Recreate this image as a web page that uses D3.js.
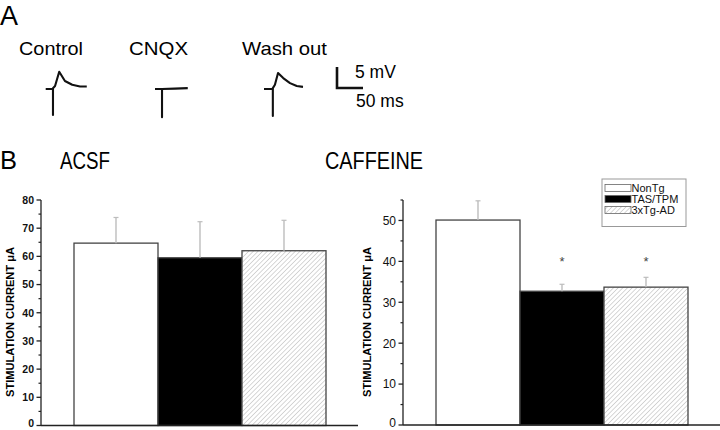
<!DOCTYPE html>
<html>
<head>
<meta charset="utf-8">
<script src="https://cdn.jsdelivr.net/npm/d3@7"></script>
<style>
  body { margin: 0; background: #fff; }
  svg { display: block; font-family: "Liberation Sans", Arial, sans-serif; }
</style>
</head>
<body>
<svg id="fig" width="720" height="430"></svg>
<script>
// groups (bars) and the two conditions
var groups = ["NonTg", "TAS/TPM", "3xTg-AD"];
var acsfMean = [64.7, 59.5, 62.0];
var acsfErr = [9.1, 12.8, 10.8];
var caffMean = [50.1, 32.7, 33.7];
var caffErr = [4.7, 1.7, 2.4];
var caffSig = [false, true, true];
var acsfTicks = [0, 10, 20, 30, 40, 50, 60, 70, 80];
var caffTicks = [0, 10, 20, 30, 40, 50];

// example EPSP traces, [ms, mV]
var traceNames = ["Control", "CNQX", "Wash out"];
var traceControl = [[0,0],[14,0],[14,-6.2],[14,0.2],[18,0.7],[26,4.1],[37,1.9],[51,1.0],[66,0.6],[79,0.6]];
var traceCnqx = [[0,0],[13.5,0],[13.5,-6.7],[13.5,0],[38,0.1],[63,0.2]];
var traceWash = [[0,0],[17,0],[17,-6.4],[17,0.2],[21,1],[27,3.8],[37,2.6],[50,1.4],[63,0.7],[75,0.5]];
var scaleBar = {ms: 50, mV: 5};

var svg = d3.select("#fig");
var defs = svg.append("defs");

var hatch = defs.append("pattern")
    .attr("id", "hatch")
    .attr("patternUnits", "userSpaceOnUse")
    .attr("width", 3.3).attr("height", 3.3)
    .attr("patternTransform", "rotate(45)");
hatch.append("rect").attr("width", 3.3).attr("height", 3.3).attr("fill", "#fff");
hatch.append("line")
    .attr("x1", 0).attr("y1", 0).attr("x2", 0).attr("y2", 3.3)
    .attr("stroke", "#b0b0b0").attr("stroke-width", 1);

var fills = ["#fff", "#000", "url(#hatch)"];

// ---------- panel A ----------
svg.append("text").attr("x", 0).attr("y", 25)
    .attr("font-size", 27).text("A");

var t = d3.scaleLinear().domain([0, 1]).range([0, 0.52]);   // px per ms
var v = d3.scaleLinear().domain([0, 1]).range([0, -4.2]);   // px per mV
var traceLine = d3.line()
    .x(function(d) { return t(d[0]) })
    .y(function(d) { return v(d[1]) });

var traces = [
  {name: traceNames[0], data: traceControl, x0: 45.7, lx: 19, lw: 64},
  {name: traceNames[1], data: traceCnqx, x0: 155, lx: 129, lw: 59},
  {name: traceNames[2], data: traceWash, x0: 264, lx: 242, lw: 85}
];

traces.forEach(function(tr) {
  svg.append("text")
      .attr("x", tr.lx).attr("y", 55)
      .attr("font-size", 18.5)
      .attr("textLength", tr.lw).attr("lengthAdjust", "spacingAndGlyphs")
      .text(tr.name);
  svg.append("path")
      .attr("transform", "translate(" + tr.x0 + ",89)")
      .attr("d", traceLine(tr.data))
      .attr("fill", "none")
      .attr("stroke", "#111")
      .attr("stroke-width", 2.1)
      .attr("stroke-linejoin", "round");
});

// scale bar
var sb = svg.append("g").attr("transform", "translate(337,88)");
sb.append("path")
    .attr("d", "M0," + v(scaleBar.mV) + "V0H" + t(scaleBar.ms))
    .attr("fill", "none").attr("stroke", "#111").attr("stroke-width", 2.6);
sb.append("text").attr("x", 18).attr("y", -10).attr("font-size", 17.5).text(scaleBar.mV + " mV");
sb.append("text").attr("x", 19).attr("y", 19).attr("font-size", 17.5).text(scaleBar.ms + " ms");

// ---------- panel B ----------
svg.append("text").attr("x", 0).attr("y", 169)
    .attr("font-size", 26)
    .attr("textLength", 17).attr("lengthAdjust", "spacingAndGlyphs")
    .text("B");

function barPanel(opts) {
  var g = svg.append("g");
  var x = d3.scaleBand().domain(groups).range(opts.bars).padding(0);
  var y = d3.scaleLinear().domain([0, opts.max]).range([opts.bottom, opts.top]);

  g.append("text")
      .attr("x", opts.titleX).attr("y", 169)
      .attr("font-size", 24)
      .attr("textLength", opts.titleW).attr("lengthAdjust", "spacingAndGlyphs")
      .text(opts.title);

  // bars
  g.selectAll(".bar")
    .data(opts.mean)
    .enter().append("rect")
      .attr("class", "bar")
      .attr("x", function(d, i) { return x(groups[i]) })
      .attr("y", function(d) { return y(d) })
      .attr("width", x.bandwidth())
      .attr("height", function(d) { return y(0) - y(d) })
      .attr("fill", function(d, i) { return fills[i] })
      .attr("stroke", "#444")
      .attr("stroke-width", 1.3);

  // upper error bars
  opts.mean.forEach(function(m, i) {
    var cx = x(groups[i]) + x.bandwidth() / 2;
    g.append("line")
        .attr("x1", cx).attr("x2", cx)
        .attr("y1", y(m)).attr("y2", y(m + opts.err[i]))
        .attr("stroke", "#bdbdbd").attr("stroke-width", 1.4);
    g.append("line")
        .attr("x1", cx - 2.5).attr("x2", cx + 2.5)
        .attr("y1", y(m + opts.err[i])).attr("y2", y(m + opts.err[i]))
        .attr("stroke", "#bdbdbd").attr("stroke-width", 1.2);
    if (opts.sig && opts.sig[i]) {
      g.append("text")
          .attr("x", cx).attr("y", y(38.8))
          .attr("text-anchor", "middle")
          .attr("font-size", 13).attr("fill", "#444")
          .text("*");
    }
  });

  // y axis with minor ticks
  var ax = g.append("g").attr("transform", "translate(" + opts.axisX + ",0)");
  ax.append("line")
      .attr("x1", 0).attr("x2", 0)
      .attr("y1", y(0)).attr("y2", opts.top)
      .attr("stroke", "#222").attr("stroke-width", 1.3);
  ax.selectAll(".minor")
    .data(d3.range(5, opts.max + 0.1, 10))
    .enter().append("line")
      .attr("x1", -2.5).attr("x2", 0)
      .attr("y1", function(d) { return y(d) })
      .attr("y2", function(d) { return y(d) })
      .attr("stroke", "#222").attr("stroke-width", 1.2);
  ax.selectAll(".major")
    .data(opts.ticks)
    .enter().append("line")
      .attr("x1", -4.5).attr("x2", 0)
      .attr("y1", function(d) { return y(d) })
      .attr("y2", function(d) { return y(d) })
      .attr("stroke", "#222").attr("stroke-width", 1.3);
  ax.selectAll(".tlabel")
    .data(opts.ticks)
    .enter().append("text")
      .attr("x", -7)
      .attr("y", function(d) { return y(d) })
      // keep the bottom label inside the picture
      .attr("dy", function(d) { return d === 0 ? "0.18em" : "0.36em" })
      .attr("text-anchor", "end")
      .attr("font-size", opts.tickSize)
      .attr("font-weight", opts.tickWeight)
      .attr("fill", "#111")
      .text(function(d) { return d });

  // x axis line
  g.append("line")
      .attr("x1", opts.axisX).attr("x2", opts.axisEnd)
      .attr("y1", y(0)).attr("y2", y(0))
      .attr("stroke", "#222").attr("stroke-width", 1.3);

  // y title
  g.append("text")
      .attr("transform", "translate(" + opts.labelX + "," + 322 + ") rotate(-90)")
      .attr("text-anchor", "middle")
      .attr("font-size", 10.5)
      .attr("font-weight", "bold")
      .attr("textLength", 150).attr("lengthAdjust", "spacingAndGlyphs")
      .text("STIMULATION CURRENT \u03bcA");

  return g;
}

barPanel({
  title: "ACSF", titleX: 60, titleW: 50,
  mean: acsfMean, err: acsfErr, ticks: acsfTicks, max: 80,
  bars: [74, 326], top: 200, bottom: 425.5,
  axisX: 41, axisEnd: 358, labelX: 14,
  tickSize: 10.5, tickWeight: "bold"
});

barPanel({
  title: "CAFFEINE", titleX: 325, titleW: 98,
  mean: caffMean, err: caffErr, sig: caffSig, ticks: caffTicks, max: 55,
  bars: [436, 688], top: 200, bottom: 425,
  axisX: 403, axisEnd: 720, labelX: 370.5,
  tickSize: 12, tickWeight: "normal"
});

// legend
var lg = svg.append("g").attr("transform", "translate(602,179)");
lg.append("rect")
    .attr("width", 84).attr("height", 47.5)
    .attr("fill", "#fff").attr("stroke", "#999").attr("stroke-width", 1);
groups.forEach(function(name, i) {
  lg.append("rect")
      .attr("x", 3).attr("y", 5.5 + i * 11)
      .attr("width", 26).attr("height", 7)
      .attr("fill", fills[i]).attr("stroke", "#666").attr("stroke-width", 0.8);
  lg.append("text")
      .attr("x", 29.5).attr("y", 12.8 + i * 11)
      .attr("font-size", 11)
      .attr("fill", "#111")
      .text(name);
});
</script>
</body>
</html>
